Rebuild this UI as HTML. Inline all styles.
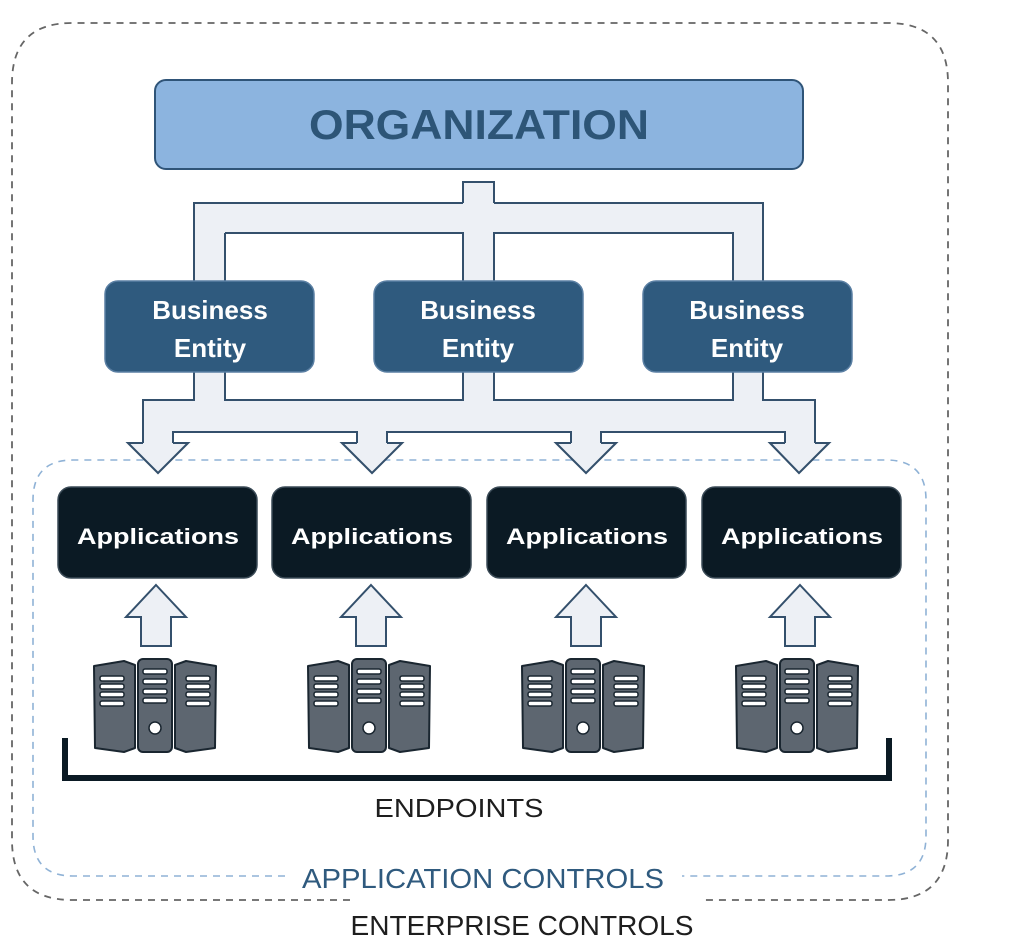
<!DOCTYPE html>
<html><head><meta charset="utf-8"><style>
html,body{margin:0;padding:0;background:#fff;}
svg{display:block;}
text{font-family:"Liberation Sans",sans-serif;}
</style></head><body>
<svg width="1013" height="945" viewBox="0 0 1013 945" xmlns="http://www.w3.org/2000/svg">
<defs>
<g id="srv">
  <path d="M-61,10 L-31,5 L-20,9 L-20,92 L-31,96 L-60,92 Z" fill="#5d6670" stroke="#1a2630" stroke-width="2" stroke-linejoin="round"/>
  <path d="M61,10 L31,5 L20,9 L20,92 L31,96 L60,92 Z" fill="#5d6670" stroke="#1a2630" stroke-width="2" stroke-linejoin="round"/>
  <rect x="-17" y="3" width="34" height="93" rx="5" fill="#5d6670" stroke="#1a2630" stroke-width="2"/>
  <g fill="#fff" stroke="#1a2630" stroke-width="1.5">
    <rect x="-55" y="20" width="24" height="5" rx="2"/>
    <rect x="-55" y="28" width="24" height="5" rx="2"/>
    <rect x="-55" y="36" width="24" height="5" rx="2"/>
    <rect x="-55" y="45" width="24" height="5" rx="2"/>
    <rect x="31" y="20" width="24" height="5" rx="2"/>
    <rect x="31" y="28" width="24" height="5" rx="2"/>
    <rect x="31" y="36" width="24" height="5" rx="2"/>
    <rect x="31" y="45" width="24" height="5" rx="2"/>
    <rect x="-12" y="13" width="24" height="5" rx="2"/>
    <rect x="-12" y="23" width="24" height="5" rx="2"/>
    <rect x="-12" y="33" width="24" height="5" rx="2"/>
    <rect x="-12" y="42" width="24" height="5" rx="2"/>
    <circle cx="0" cy="72" r="6"/>
  </g>
</g>
<g id="up">
  <polygon points="0,585 30,617 15,617 15,646 -15,646 -15,617 -30,617" fill="#edf0f5" stroke="#34506c" stroke-width="2" stroke-linejoin="miter"/>
</g>
</defs>

<!-- outer dashed -->
<path d="M350,900 L72,900 Q12,900 12,840 L12,83 Q12,23 72,23 L888,23 Q948,23 948,83 L948,840 Q948,900 888,900 L700,900" fill="none" stroke="#666" stroke-width="1.8" stroke-dasharray="7,6"/>
<!-- inner dashed -->
<path d="M285,876 L73,876 Q33,876 33,836 L33,500 Q33,460 73,460 L886,460 Q926,460 926,500 L926,836 Q926,876 886,876 L682,876" fill="none" stroke="#8fb2d6" stroke-width="1.6" stroke-dasharray="7,6"/>

<!-- Organization -->
<rect x="155" y="80" width="648" height="89" rx="11" fill="#8cb4df" stroke="#2f5478" stroke-width="2"/>
<text x="479" y="139" text-anchor="middle" font-size="42" font-weight="bold" fill="#2d5577" textLength="340" lengthAdjust="spacingAndGlyphs">ORGANIZATION</text>

<!-- connectors: stroke layer -->
<g fill="#edf0f5" stroke="#34506c" stroke-width="2">
  <rect x="463" y="182" width="31" height="40"/>
  <rect x="194" y="203" width="569" height="30"/>
  <rect x="194" y="203" width="31" height="90"/>
  <rect x="463" y="203" width="31" height="90"/>
  <rect x="733" y="203" width="30" height="90"/>
  <rect x="194" y="360" width="31" height="60"/>
  <rect x="463" y="360" width="31" height="60"/>
  <rect x="733" y="360" width="30" height="60"/>
  <rect x="143" y="400" width="672" height="32"/>
  <polygon points="143,420 173,420 173,443 188,443 158,473 128,443 143,443"/>
  <polygon points="357,420 387,420 387,443 402,443 372,473 342,443 357,443"/>
  <polygon points="571,420 601,420 601,443 616,443 586,473 556,443 571,443"/>
  <polygon points="785,420 815,420 815,443 829,443 799,473 770,443 785,443"/>
</g>
<!-- fill layer (union) -->
<g fill="#edf0f5">
  <rect x="463" y="182" width="31" height="40"/>
  <rect x="194" y="203" width="569" height="30"/>
  <rect x="194" y="203" width="31" height="90"/>
  <rect x="463" y="203" width="31" height="90"/>
  <rect x="733" y="203" width="30" height="90"/>
  <rect x="194" y="360" width="31" height="60"/>
  <rect x="463" y="360" width="31" height="60"/>
  <rect x="733" y="360" width="30" height="60"/>
  <rect x="143" y="400" width="672" height="32"/>
  <polygon points="143,420 173,420 173,443 188,443 158,473 128,443 143,443"/>
  <polygon points="357,420 387,420 387,443 402,443 372,473 342,443 357,443"/>
  <polygon points="571,420 601,420 601,443 616,443 586,473 556,443 571,443"/>
  <polygon points="785,420 815,420 815,443 829,443 799,473 770,443 785,443"/>
</g>
<!-- re-draw pieces to fix union edges -->
<g fill="none" stroke="#34506c" stroke-width="2">
  <path d="M463,182 L494,182 M463,182 L463,203 M494,182 L494,203"/>
  <path d="M194,203 L463,203 M494,203 L763,203"/>
  <path d="M225,233 L463,233 L463,281 M494,281 L494,233 L733,233 L733,281"/>
  <path d="M194,203 L194,281 M763,203 L763,281 M225,233 L225,281"/>
  <path d="M194,372 L194,400 L143,400 L143,443 M225,372 L225,400 L463,400 L463,372 M494,372 L494,400 L733,400 L733,372 M763,372 L763,400 L815,400 L815,443"/>
  <path d="M173,443 L173,432 L357,432 L357,443 M387,443 L387,432 L571,432 L571,443 M601,443 L601,432 L785,432 L785,443"/>
  <path d="M143,443 L128,443 L158,473 L188,443 L173,443"/>
  <path d="M357,443 L342,443 L372,473 L402,443 L387,443"/>
  <path d="M571,443 L556,443 L586,473 L616,443 L601,443"/>
  <path d="M785,443 L770,443 L799,473 L829,443 L815,443"/>
</g>

<!-- Business entities -->
<g fill="#2f5a7e" stroke="#5a7fa3" stroke-width="1.5">
  <rect x="105" y="281" width="209" height="91" rx="13"/>
  <rect x="374" y="281" width="209" height="91" rx="13"/>
  <rect x="643" y="281" width="209" height="91" rx="13"/>
</g>
<g fill="#fff" font-size="26" font-weight="bold" text-anchor="middle">
  <text x="210" y="319">Business</text><text x="210" y="357">Entity</text>
  <text x="478" y="319">Business</text><text x="478" y="357">Entity</text>
  <text x="747" y="319">Business</text><text x="747" y="357">Entity</text>
</g>

<!-- Applications -->
<g fill="#0b1a24" stroke="#3a4a56" stroke-width="1.5">
  <rect x="58" y="487" width="199" height="91" rx="13"/>
  <rect x="272" y="487" width="199" height="91" rx="13"/>
  <rect x="487" y="487" width="199" height="91" rx="13"/>
  <rect x="702" y="487" width="199" height="91" rx="13"/>
</g>
<g fill="#fff" font-size="22" font-weight="bold" text-anchor="middle">
  <text x="158" y="544" textLength="162" lengthAdjust="spacingAndGlyphs">Applications</text>
  <text x="372" y="544" textLength="162" lengthAdjust="spacingAndGlyphs">Applications</text>
  <text x="587" y="544" textLength="162" lengthAdjust="spacingAndGlyphs">Applications</text>
  <text x="802" y="544" textLength="162" lengthAdjust="spacingAndGlyphs">Applications</text>
</g>

<!-- up arrows -->
<use href="#up" transform="translate(156,0)"/>
<use href="#up" transform="translate(371,0)"/>
<use href="#up" transform="translate(586,0)"/>
<use href="#up" transform="translate(800,0)"/>

<!-- servers -->
<use href="#srv" transform="translate(155,656)"/>
<use href="#srv" transform="translate(369,656)"/>
<use href="#srv" transform="translate(583,656)"/>
<use href="#srv" transform="translate(797,656)"/>

<!-- bracket -->
<path d="M65,738 L65,778 L889,778 L889,738" fill="none" stroke="#0b1a24" stroke-width="6"/>

<text x="459" y="817" text-anchor="middle" font-size="26" fill="#1e1e1e" textLength="169" lengthAdjust="spacingAndGlyphs">ENDPOINTS</text>
<text x="483" y="888" text-anchor="middle" font-size="28" fill="#2f5a7e" textLength="362" lengthAdjust="spacingAndGlyphs">APPLICATION CONTROLS</text>
<text x="522" y="935" text-anchor="middle" font-size="28" fill="#1e1e1e" textLength="343" lengthAdjust="spacingAndGlyphs">ENTERPRISE CONTROLS</text>
</svg>
</body></html>
